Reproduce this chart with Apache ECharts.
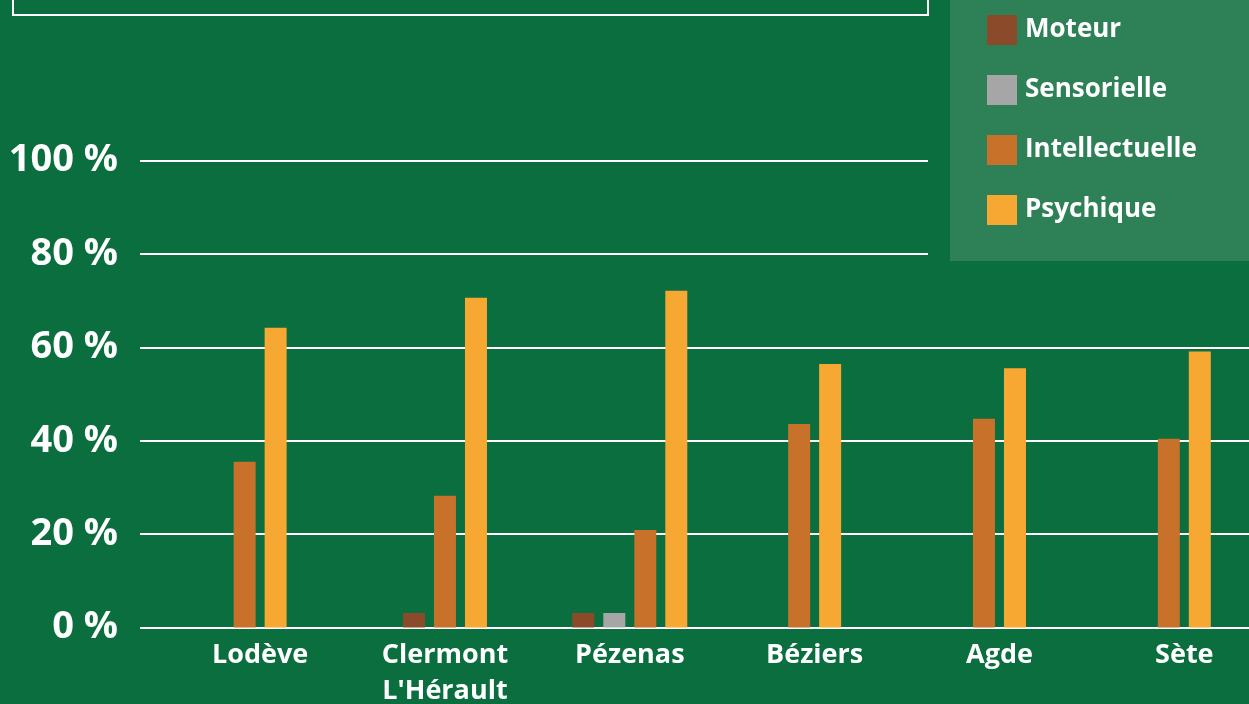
<!DOCTYPE html>
<html>
<head>
<meta charset="utf-8">
<script src="https://cdn.jsdelivr.net/npm/echarts@6/dist/echarts.min.js"></script>
<style>
html,body{margin:0;padding:0;background:#0A6E3F;overflow:hidden;}
#chart{width:1249px;height:704px;}
</style>
</head>
<body>
<div id="chart"></div>
<script>
// ---- data ----
const categories = ['Lodève', "Clermont\nL'Hérault", 'Pézenas', 'Béziers', 'Agde', 'Sète'];
const seriesNames = ['Moteur', 'Sensorielle', 'Intellectuelle', 'Psychique'];
const moteur = [0, 3.1, 3.1, 0, 0, 0];
const sensorielle = [0, 0, 3.1, 0, 0, 0];
const intellectuelle = [35.5, 28.2, 20.9, 43.6, 44.7, 40.4];
const psychique = [64.2, 70.6, 72.1, 56.4, 55.5, 59.1];
const yTicks = [0, 20, 40, 60, 80, 100];

const allValues = [moteur, sensorielle, intellectuelle, psychique];
const colors = ['#8B4A2A', '#A6A6A6', '#C8712A', '#F7A832'];

const BAR_W = 22;
const PITCH = 31;

function makeRender(sIdx) {
  return function (params, api) {
    const cat = api.value(0);
    const val = api.value(1);
    if (!val) return null;
    // only non-zero bars are shown, centred on their category
    const shown = [];
    for (let k = 0; k < allValues.length; k++) if (allValues[k][cat]) shown.push(k);
    const pos = shown.indexOf(sIdx);
    const n = shown.length;
    const base = api.coord([cat, 0]);
    const top = api.coord([cat, val]);
    const cx = base[0] + (pos - (n - 1) / 2) * PITCH;
    return {
      type: 'rect',
      shape: { x: cx - BAR_W / 2, y: top[1], width: BAR_W, height: base[1] - top[1] },
      style: { fill: colors[sIdx] }
    };
  };
}

const chart = echarts.init(document.getElementById('chart'));
const FONT = '"Open Sans", "Liberation Sans", sans-serif';

chart.setOption({
  backgroundColor: '#0A6E3F',
  animation: false,
  textStyle: { fontFamily: FONT },
  grid: { left: 140, width: 1109, top: 160.5, height: 467, containLabel: false, outerBoundsMode: 'none' },
  xAxis: {
    type: 'value',
    min: -0.65,
    max: 5.35,
    splitLine: { show: false },
    axisLine: { show: false },
    axisTick: { show: false },
    axisLabel: {
      customValues: categories.map((c, i) => i),
      formatter: v => categories[Math.round(v)],
      color: '#FFFFFF',
      fontSize: 27,
      fontWeight: 'bold',
      fontFamily: FONT,
      lineHeight: 36,
      margin: 10,
      align: 'center'
    }
  },
  yAxis: {
    type: 'value',
    min: 0,
    max: 100,
    interval: 20,
    axisLine: { show: false },
    axisTick: { show: false },
    splitLine: { lineStyle: { color: '#FFFFFF', width: 2 } },
    axisLabel: {
      formatter: v => yTicks.includes(v) ? v + ' %' : '',
      color: '#FFFFFF',
      fontSize: 38,
      fontWeight: 'bold',
      fontFamily: FONT,
      margin: 22
    }
  },
  legend: {
    orient: 'vertical',
    left: 987,
    top: 15,
    itemWidth: 30,
    itemHeight: 30,
    itemGap: 30,
    icon: 'rect',
    padding: 0,
    data: seriesNames,
    textStyle: { color: '#FFFFFF', fontSize: 26, fontWeight: 'bold', fontFamily: FONT, padding: [0, 0, 0, 3] }
  },
  graphic: [
    { type: 'rect', z: 3, shape: { x: 928, y: 0, width: 22, height: 261 }, style: { fill: '#0A6E3F' } },
    { type: 'rect', z: 3, shape: { x: 950, y: 0, width: 299, height: 261 }, style: { fill: '#2E8157' } },
    { type: 'rect', z: 3, shape: { x: 13, y: -50, width: 915, height: 65 }, style: { fill: 'none', stroke: '#FFFFFF', lineWidth: 2 } }
  ],
  series: seriesNames.map((name, s) => ({
    name: name,
    type: 'custom',
    z: 2,
    itemStyle: { color: colors[s] },
    renderItem: makeRender(s),
    encode: { x: 0, y: 1 },
    data: allValues[s].map((v, i) => [i, v])
  }))
});
</script>
</body>
</html>
